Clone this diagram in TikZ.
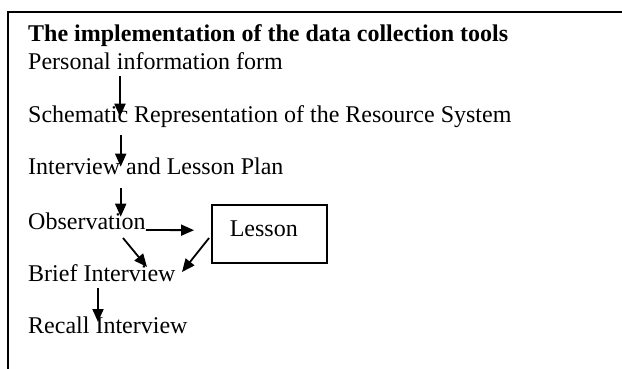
\documentclass[tikz,border=0pt]{standalone}
\usepackage{fontspec}
\setmainfont{Liberation Serif}
\usetikzlibrary{calc,arrows.meta}
\begin{document}
\begin{tikzpicture}[x=1pt,y=-1pt,
  txt/.style={anchor=base west,inner sep=0pt,font=\fontsize{24}{28}\selectfont},
  arr/.style={-{Triangle[length=13pt,width=11pt]},line width=1.8pt},
  box/.style={draw,line width=1.8pt,minimum width=114.7pt,minimum height=58.3pt,inner sep=0pt}]
\useasboundingbox (0,0) rectangle (622,369);
\fill[white] (0,0) rectangle (622,369);
\coordinate (ftl) at (8,12);
\coordinate (ftr) at (622,12);
\coordinate (fbl) at (8,369);
\draw[line width=1.8pt] (ftr) -- (ftl) -- (fbl);
\node[txt,font=\fontsize{24}{28}\selectfont\bfseries] (title) at (28,42) {The implementation of the data collection tools};
\node[txt] (pif) at (28,69.5) {Personal information form};
\node[txt] (srs) at (28,123) {Schematic Representation of the Resource System};
\node[txt] (ilp) at (28,175) {Interview and Lesson Plan};
\node[txt] (obs) at (28,229) {Observation};
\node[box,label={[font=\fontsize{24}{28}\selectfont,inner sep=0pt,xshift=-5.5pt,yshift=5pt]center:Lesson}] (lesson) at (269.3,234.2) {};
\node[txt] (brief) at (28,281.7) {Brief Interview};
\node[txt] (recall) at (28,333) {Recall Interview};
\draw[arr] ($(pif.base west)+(92,6.5)$) -- ($(srs.base west)+(92,-6.3)$);
\draw[arr] ($(srs.base west)+(92.7,12)$) -- ($(ilp.base west)+(92.7,-8.3)$);
\draw[arr] ($(ilp.base west)+(92.7,13)$) -- ($(obs.base west)+(92.7,-12.3)$);
\draw[arr] ($(obs.base west)+(118,1)$) -- ($(lesson.west)+(-17,-4)$);
\draw[arr] ($(obs.base west)+(95,9)$) -- ($(brief.base west)+(119,-14.7)$);
\draw[arr] ($(lesson.west)+(-2,3.8)$) -- ($(brief.base west)+(154,-9.7)$);
\draw[arr] ($(brief.base west)+(70,6.3)$) -- ($(recall.base west)+(70,-11)$);
\end{tikzpicture}
\end{document}
